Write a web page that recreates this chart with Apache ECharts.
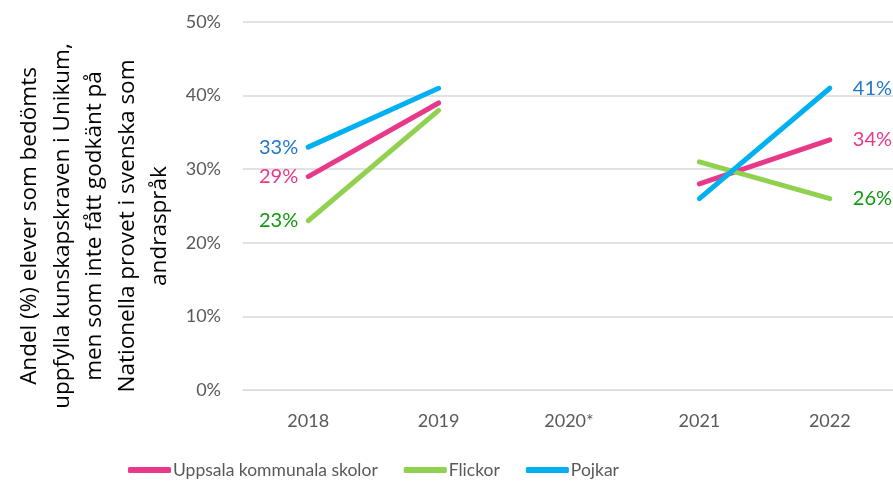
<!DOCTYPE html>
<html>
<head>
<meta charset="utf-8">
<script src="https://cdn.jsdelivr.net/npm/echarts@6/dist/echarts.min.js"></script>
<style>
  html, body { margin: 0; padding: 0; background: #fff; }
  #chart { width: 893px; height: 485px; }
</style>
</head>
<body>
<div id="chart"></div>
<script>
const years = ['2018', '2019', '2020*', '2021', '2022']
const uppsala = [29, 39, null, 28, 34]
const flickor = [23, 38, null, 31, 26]
const pojkar = [33, 41, null, 26, 41]
const yTicks = [0, 10, 20, 30, 40, 50]
const yTitle = 'Andel (%) elever som bedömts\nuppfylla kunskapskraven i Unikum,\nmen som inte fått godkänt på\nNationella provet i svenska som\nandraspråk'

const FONT = 'Lato'

// etikett bara på första och sista punkten
function withEndLabels(values, color) {
  return values.map((v, i) => {
    if (i === 0) return { value: v, label: { show: true, position: 'left', distance: 9, color: color } }
    if (i === values.length - 1) return { value: v, label: { show: true, position: 'right', distance: 22, color: color } }
    return v
  })
}

function lineSeries(name, values, lineColor, labelColor) {
  return {
    type: 'line',
    name: name,
    data: withEndLabels(values, labelColor),
    showSymbol: true,
    symbol: 'circle',
    symbolSize: 2,
    connectNulls: false,
    lineStyle: { width: 5, color: lineColor, cap: 'round' },
    itemStyle: { color: lineColor },
    label: { show: false, fontFamily: FONT, fontSize: 20, formatter: '{c}%' },
    labelLayout: { hideOverlap: false },
    z: 2
  }
}

const mycharts = echarts.init(document.getElementById('chart'))
mycharts.setOption({
  animation: false,
  textStyle: { fontFamily: FONT },
  grid: { left: 243, top: 22, width: 652, height: 368, containLabel: false, outerBoundsMode: 'none' },
  graphic: [
    {
      type: 'text',
      x: 95,
      y: 226,
      rotation: Math.PI / 2,
      style: {
        text: yTitle,
        fill: '#000',
        fontFamily: 'Open Sans',
        fontSize: 22.5,
        lineHeight: 32.5,
        align: 'center',
        verticalAlign: 'middle'
      }
    }
  ],
  legend: {
    bottom: 1,
    left: 123,
    itemWidth: 43,
    itemHeight: 6,
    itemGap: 26,
    icon: 'roundRect',
    textStyle: { fontFamily: FONT, fontSize: 17.5, color: '#595959', padding: [0, 0, 0, -3] },
    data: ['Uppsala kommunala skolor', 'Flickor', 'Pojkar']
  },
  xAxis: {
    type: 'category',
    data: years,
    boundaryGap: true,
    axisLine: { show: true, lineStyle: { color: '#d9d9d9', width: 1 } },
    axisTick: { show: false },
    axisLabel: { color: '#595959', fontSize: 18, margin: 22, fontFamily: FONT }
  },
  yAxis: {
    type: 'value',
    min: yTicks[0],
    max: yTicks[yTicks.length - 1],
    interval: 10,
    axisLine: { show: false },
    axisTick: { show: false },
    splitLine: { lineStyle: { color: '#d9d9d9', width: 1.5 } },
    axisLabel: { color: '#595959', fontSize: 18, margin: 22, fontFamily: FONT, formatter: '{value}%' }
  },
  series: [
    lineSeries('Uppsala kommunala skolor', uppsala, '#E8388A', '#E8388A'),
    lineSeries('Flickor', flickor, '#92D050', '#119911'),
    lineSeries('Pojkar', pojkar, '#00B0F0', '#1F78C8')
  ]
})
</script>
</body>
</html>
